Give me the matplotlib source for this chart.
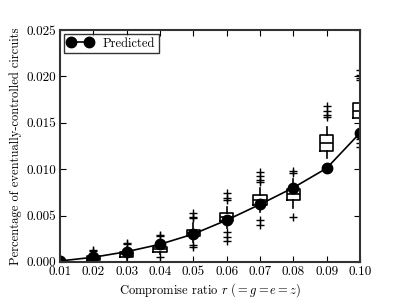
import matplotlib
matplotlib.use('Agg')
import matplotlib.pyplot as plt

plt.rcParams['font.family'] = 'serif'
plt.rcParams['font.serif'] = ['cmr10', 'DejaVu Serif']
plt.rcParams['mathtext.fontset'] = 'cm'
plt.rcParams['axes.formatter.use_mathtext'] = True

ratios = [0.01, 0.02, 0.03, 0.04, 0.05, 0.06, 0.07, 0.08, 0.09, 0.10]
predicted = [0.0001, 0.0005, 0.0011, 0.0019, 0.0030, 0.0045, 0.0062, 0.0080, 0.0101, 0.0139]

# box plot summary of the simulated runs
med = [0.0000, 0.0004, 0.0008, 0.0014, 0.0031, 0.0048, 0.0067, 0.0073, 0.0128, 0.0163]
q1 = [0.0000, 0.0002, 0.0005, 0.0011, 0.0028, 0.0044, 0.0061, 0.0067, 0.0120, 0.0155]
q3 = [0.0001, 0.0006, 0.0011, 0.0016, 0.0034, 0.0053, 0.0072, 0.0079, 0.0137, 0.0171]
whislo = [0.0000, 0.0000, 0.0002, 0.0008, 0.0021, 0.0037, 0.0054, 0.0058, 0.0112, 0.0145]
whishi = [0.0002, 0.0009, 0.0016, 0.0022, 0.0042, 0.0059, 0.0080, 0.0089, 0.0145, 0.0180]
fliers = [
    [0.0003],
    [0.0012, 0.0013],
    [0.0019, 0.0020],
    [0.0028, 0.0029, 0.0005],
    [0.0047, 0.0048, 0.0053, 0.0018, 0.0016],
    [0.0067, 0.0069, 0.0074, 0.0032, 0.0027, 0.0022],
    [0.0086, 0.0088, 0.0093, 0.0097, 0.0045, 0.0040],
    [0.0096, 0.0098, 0.0048],
    [0.0156, 0.0158, 0.0163, 0.0168],
    [0.0196, 0.0198, 0.0202, 0.0207, 0.0132, 0.0128, 0.0124],
]

stats = []
for i in range(len(ratios)):
    stats.append({'med': med[i], 'q1': q1[i], 'q3': q3[i],
                  'whislo': whislo[i], 'whishi': whishi[i],
                  'fliers': fliers[i]})

fig = plt.figure(figsize=(4, 3), dpi=100)
ax = fig.add_axes([0.15, 0.127, 0.75, 0.773])

ax.bxp(stats, positions=ratios, widths=0.004, manage_ticks=False,
       boxprops=dict(color='black', linewidth=1.2),
       medianprops=dict(color='black', linewidth=1.2),
       whiskerprops=dict(color='black', linewidth=1.2),
       capprops=dict(color='black', linewidth=0),
       flierprops=dict(marker='+', markeredgecolor='black', markersize=6))

ax.plot(ratios, predicted, 'k-o', markersize=7.5, linewidth=1.2, label='Predicted')

ax.set_xlim(0.01, 0.10)
ax.set_ylim(0, 0.025)
ax.set_xticks(ratios)
ax.set_xticklabels(['%.2f' % r for r in ratios])
ax.set_yticks([0.0, 0.005, 0.010, 0.015, 0.020, 0.025])
ax.set_yticklabels(['0.000', '0.005', '0.010', '0.015', '0.020', '0.025'])
ax.tick_params(direction='in', top=True, right=True, labelsize=9.5, length=4, pad=3)
for s in ax.spines.values():
    s.set_linewidth(1.5)
    s.set_color('#333333')

ax.set_xlabel('Compromise ratio $r$ $(= g = e = z)$', fontsize=9, labelpad=2)
ax.set_ylabel('Percentage of eventually-controlled circuits', fontsize=9, labelpad=3)

leg = ax.legend(loc='upper left', numpoints=2, fontsize=9, fancybox=False,
                handlelength=2, borderaxespad=0.3, borderpad=0.3)
leg.get_frame().set_edgecolor('black')
leg.get_frame().set_linewidth(1.0)

fig.savefig('out.png', dpi=100)
